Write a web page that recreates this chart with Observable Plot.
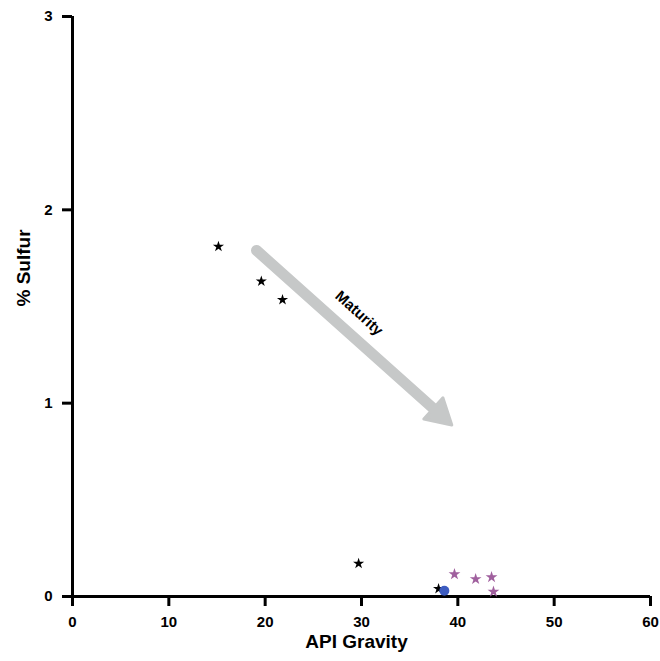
<!DOCTYPE html>
<html>
<head>
<meta charset="utf-8">
<script src="https://cdn.jsdelivr.net/npm/d3@7"></script>
<script src="https://cdn.jsdelivr.net/npm/@observablehq/plot@0.6"></script>
<style>
  html, body { margin: 0; padding: 0; background: #fff; }
</style>
</head>
<body>
<div id="chart"></div>
<script>
// Oil samples: API gravity vs. sulfur content
const apiBlack = [15.15, 19.6, 21.8, 29.7, 38.0];
const sulfurBlack = [1.81, 1.63, 1.535, 0.17, 0.04];

const apiPurple = [39.65, 41.85, 43.5, 43.7];
const sulfurPurple = [0.115, 0.09, 0.10, 0.025];

const apiBlue = [38.6];
const sulfurBlue = [0.03];

const xTicks = [0, 10, 20, 30, 40, 50, 60];
const yTicks = [0, 1, 2, 3];

// Maturity trend arrow (API gravity, % sulfur): shaft start, and arrowhead centre
const trendStart = [19.1, 1.79];
const trendHead = [38.1, 0.944];
const trendLabel = "Maturity";
const trendLabelAt = [29.75, 1.465];

const xLabel = "API Gravity";
const yLabel = "% Sulfur";

const toPoints = (xs, ys) => xs.map((x, i) => ({x, y: ys[i]}));
const blackPts = toPoints(apiBlack, sulfurBlack);
const purplePts = toPoints(apiPurple, sulfurPurple);
const bluePts = toPoints(apiBlue, sulfurBlue);

const font = "'Liberation Sans', Arial, Helvetica, sans-serif";
const arrowGrey = "#c6c8c8";

const chart = Plot.plot({
  width: 660,
  height: 661,
  marginLeft: 72,
  marginRight: 10,
  marginTop: 16,
  marginBottom: 65,
  x: {domain: [0, 60]},
  y: {domain: [0, 3]},
  style: {fontFamily: font, fontSize: "15px", fontWeight: "bold", background: "#fff", color: "#000"},
  marks: [
    Plot.axisX({ticks: xTicks, tickFormat: d3.format("d"), tickSize: 10, tickPadding: 10,
      strokeWidth: 3, fontSize: 15, fontWeight: "bold", label: null}),
    Plot.axisY({ticks: yTicks, tickFormat: d3.format("d"), tickSize: 10, tickPadding: 10,
      strokeWidth: 3, fontSize: 15, fontWeight: "bold", label: null}),
    Plot.ruleY([0], {stroke: "#000", strokeWidth: 3}),
    Plot.ruleX([0], {stroke: "#000", strokeWidth: 3}),
    // arrow shaft
    Plot.link([{x1: trendStart[0], y1: trendStart[1], x2: trendHead[0], y2: trendHead[1]}], {
      x1: "x1", y1: "y1", x2: "x2", y2: "y2",
      stroke: arrowGrey, strokeWidth: 11, strokeLinecap: "round"
    }),
    // arrowhead, pointing along the shaft
    Plot.dot([{x: trendHead[0], y: trendHead[1]}], {
      x: "x", y: "y", symbol: "triangle", r: 10.6, rotate: 132,
      fill: arrowGrey, stroke: arrowGrey, strokeWidth: 3, strokeLinejoin: "round"
    }),
    Plot.text([trendLabel], {
      x: () => trendLabelAt[0], y: () => trendLabelAt[1],
      rotate: 42, fontSize: 15, fontWeight: "bold", fill: "#000"
    }),
    Plot.dot(blackPts, {x: "x", y: "y", symbol: "star", r: 3.5, fill: "#000"}),
    Plot.dot(purplePts, {x: "x", y: "y", symbol: "star", r: 3.7, fill: "#a0609e"}),
    Plot.dot(bluePts, {x: "x", y: "y", symbol: "circle", r: 5, fill: "#3d5cc0"}),
    Plot.text([xLabel], {frameAnchor: "bottom", dy: 51, dx: -5, fontSize: 19,
      fontWeight: "bold", fill: "#000"}),
    Plot.text([yLabel], {frameAnchor: "left", dx: -49, rotate: -90, fontSize: 19,
      fontWeight: "bold", fill: "#000"})
  ]
});

document.getElementById("chart").appendChild(chart);
</script>
</body>
</html>
